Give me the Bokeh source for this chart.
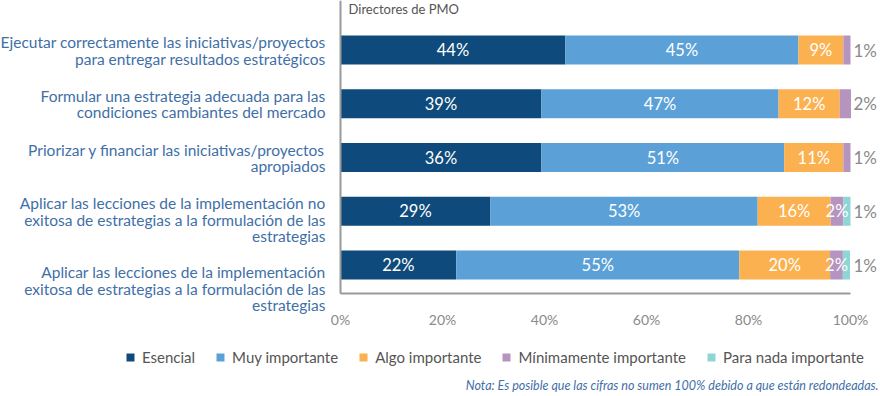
from bokeh.plotting import figure
from bokeh.models import ColumnDataSource, Range1d, LabelSet, Label, FixedTicker
from bokeh.core.properties import value
from bokeh.embed import file_html
from bokeh.resources import INLINE

# ---------------- data ----------------
categories = [
    "Ejecutar correctamente las iniciativas/proyectos\npara entregar resultados estratégicos",
    "Formular una estrategia adecuada para las\ncondiciones cambiantes del mercado",
    "Priorizar y financiar las iniciativas/proyectos\napropiados",
    "Aplicar las lecciones de la implementación no\nexitosa de estrategias a la formulación de las\nestrategias",
    "Aplicar las lecciones de la implementación\nexitosa de estrategias a la formulación de las\nestrategias",
]
series_names = ["Esencial", "Muy importante", "Algo importante",
                "Mínimamente importante", "Para nada importante"]

# bar lengths as drawn (%)
esencial = [44.1, 39.4, 39.4, 29.4, 22.7]
muy_importante = [45.7, 46.5, 47.6, 52.4, 55.5]
algo_importante = [8.8, 12.0, 11.6, 14.3, 17.8]
minimamente = [1.4, 2.2, 1.4, 2.5, 2.5]
para_nada = [0.0, 0.0, 0.0, 1.4, 1.4]

# printed labels
esencial_lbl = ["44%", "39%", "36%", "29%", "22%"]
muy_importante_lbl = ["45%", "47%", "51%", "53%", "55%"]
algo_importante_lbl = ["9%", "12%", "11%", "16%", "20%"]
minimamente_lbl = ["1%", "2%", "1%", "2%", "2%"]
para_nada_lbl = ["", "", "", "1%", "1%"]

tick_values = [0, 20, 40, 60, 80, 100]
tick_labels = ["0%", "20%", "40%", "60%", "80%", "100%"]

group_title = "Directores de PMO"
note = "Nota: Es posible que las cifras no sumen 100% debido a que están redondeadas."

# ---------------- styles / layout ----------------
FONT = "Lato"
colors = ["#0E4A7B", "#5BA1D8", "#FBB14F", "#B594BF", "#8ED5D5"]
cat_color = "#3F6FA7"
label_shift = [0, 0, 0, 0, 15]   # extra downward shift of category text blocks (px)

W, H = 880, 396
PX_X = 5.1           # px per percent
LEFT = 340           # px from left where 0% sits
ROW = 53.75          # px per row
TOP = 49.5           # px from top to first row centre
AXIS_PX = 293        # px from top to the x axis line

x0 = -LEFT / PX_X
x1 = x0 + W / PX_X
y_top = -TOP / ROW
y_bot = y_top + H / ROW
axis_y = y_top + AXIS_PX / ROW

keys = ["esencial", "muy", "algo", "minimo", "nada"]
widths = [esencial, muy_importante, algo_importante, minimamente, para_nada]
labels = [esencial_lbl, muy_importante_lbl, algo_importante_lbl, minimamente_lbl, para_nada_lbl]

rows = list(range(len(categories)))
src = ColumnDataSource(dict(row=rows, **{k: w for k, w in zip(keys, widths)}))

p = figure(width=W, height=H,
           x_range=Range1d(x0, x1), y_range=Range1d(y_bot, y_top),
           output_backend="svg", toolbar_location=None,
           min_border_left=0, min_border_right=0,
           min_border_top=0, min_border_bottom=0)
p.outline_line_color = None
p.xgrid.visible = False
p.ygrid.visible = False
p.background_fill_color = "white"
p.border_fill_color = "white"

p.hbar_stack(keys, y="row", height=0.54, color=colors, source=src,
             legend_label=series_names, line_color=None)

# axes (kept in their panels, drawn at fixed locations)
p.xaxis.fixed_location = axis_y
p.xaxis.ticker = FixedTicker(ticks=tick_values)
p.xaxis.major_label_overrides = {t: l for t, l in zip(tick_values, tick_labels)}
p.xaxis.bounds = (0, 100)
p.xaxis.axis_line_color = "#9a9a9a"
p.xaxis.axis_line_width = 2
p.xaxis.major_tick_line_color = None
p.xaxis.minor_tick_line_color = None
p.xaxis.major_tick_out = 0
p.xaxis.major_tick_in = 0
p.xaxis.major_label_standoff = 17
p.xaxis.major_label_text_font = FONT
p.xaxis.major_label_text_font_size = "14px"
p.xaxis.major_label_text_color = "#8a8a8a"

p.yaxis.fixed_location = 0
p.yaxis.bounds = (y_top, axis_y)
p.yaxis.ticker = FixedTicker(ticks=[])
p.yaxis.axis_line_color = "#9a9a9a"
p.yaxis.axis_line_width = 2
p.yaxis.major_tick_line_color = None
p.yaxis.minor_tick_line_color = None
p.yaxis.major_label_text_color = None

# value labels
in_x, in_y, in_t = [], [], []
out_y, out_t = [], []
for r in rows:
    vals = [w[r] for w in widths]
    last = max(i for i, v in enumerate(vals) if v > 0)
    cum = 0.0
    for i, v in enumerate(vals):
        if v > 0:
            if i == last:
                out_y.append(r)
                out_t.append(labels[i][r])
            else:
                in_x.append(cum + v / 2)
                in_y.append(r)
                in_t.append(labels[i][r])
        cum += v

p.add_layout(LabelSet(x="x", y="y", text="t",
                      source=ColumnDataSource(dict(x=in_x, y=in_y, t=in_t)),
                      text_align="center", text_baseline="middle",
                      text_color="white", text_font=value(FONT), text_font_size="16.5px"))
p.add_layout(LabelSet(x="x", y="y", text="t", x_offset=3,
                      source=ColumnDataSource(dict(x=[100] * len(out_y), y=out_y, t=out_t)),
                      text_align="left", text_baseline="middle",
                      text_color="#8a8a8a", text_font=value(FONT), text_font_size="17px"))

# category labels (one entry per line)
cx, cy, ct, co = [], [], [], []
for r, cat in enumerate(categories):
    for k, line in enumerate(cat.split("\n")):
        cx.append(0)
        cy.append(r)
        ct.append(line)
        co.append(8 - label_shift[r] - k * 16.5)
p.add_layout(LabelSet(x="x", y="y", text="t", y_offset="o", x_offset=-15,
                      source=ColumnDataSource(dict(x=cx, y=cy, t=ct, o=co)),
                      text_align="right", text_baseline="middle",
                      text_color=cat_color, text_font=value(FONT), text_font_size="15.5px"))

# group title
p.add_layout(Label(x=0, y=y_top, x_offset=8, y_offset=-8, text=group_title,
                   text_align="left", text_baseline="middle",
                   text_color="#555555", text_font=FONT, text_font_size="13px"))

# note
p.add_layout(Label(x=100, y=y_bot, x_offset=28, y_offset=11, text=note,
                   text_align="right", text_baseline="middle",
                   text_color=cat_color, text_font=FONT, text_font_size="12.5px",
                   text_font_style="italic"))

# legend
lg = p.legend[0]
lg.orientation = "horizontal"
lg.location = (125, 30)
lg.glyph_width = 10
lg.glyph_height = 10
lg.label_standoff = 7
lg.spacing = 20
lg.padding = 0
lg.margin = 0
lg.border_line_color = None
lg.background_fill_alpha = 0
lg.label_text_font = FONT
lg.label_text_font_size = "15px"
lg.label_text_color = "#555555"

open("out.html", "w").write(file_html(p, INLINE))
